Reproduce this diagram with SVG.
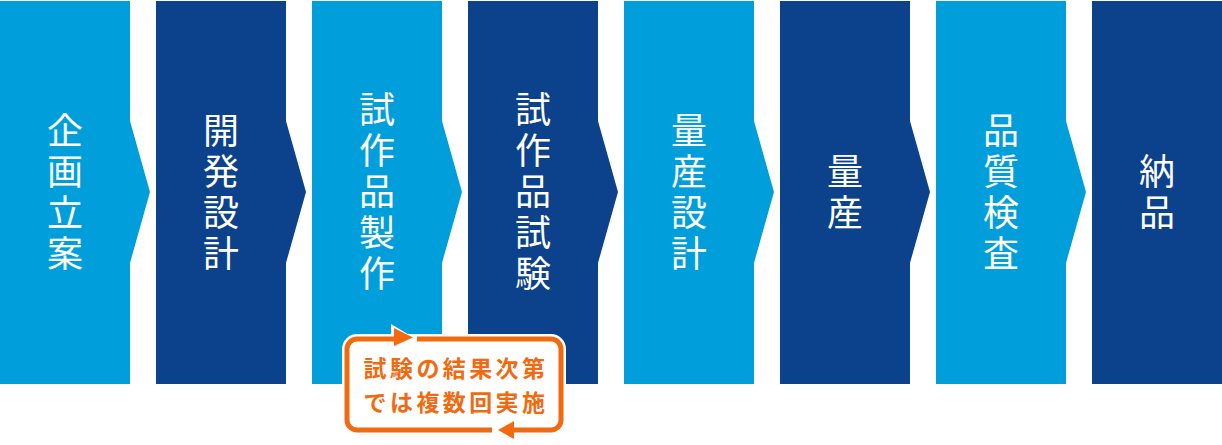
<svg xmlns="http://www.w3.org/2000/svg" width="1222" height="445" viewBox="0 0 1222 445">
<style>
.light{fill:#009FDB}
.dark{fill:#0B428B}
.lbl{font-family:"Noto Sans CJK JP","Noto Sans",sans-serif;font-size:36px;fill:#FFFFFF;text-anchor:middle;writing-mode:vertical-rl;text-orientation:upright;letter-spacing:5px}
.note{font-family:"Noto Sans CJK JP","Noto Sans",sans-serif;font-size:23px;font-weight:bold;fill:#F26A10;text-anchor:middle;letter-spacing:3.4px}
.loop{fill:none;stroke:#F26A10;stroke-width:5}
.halo{fill:#FFFFFF;stroke:#FFFFFF;stroke-width:10}
.head{fill:#F26A10}
</style>
<rect width="1222" height="445" fill="#FFFFFF"/>
<g id="step1"><polygon class="light" points="0,1 130,1 130,121 150,192 130,263 130,384 0,384"/>
<text class="lbl" x="65" y="194">企画立案</text></g>
<g id="step2"><polygon class="dark" points="156,1 286,1 286,121 306,192 286,263 286,384 156,384"/>
<text class="lbl" x="221" y="194">開発設計</text></g>
<g id="step3"><polygon class="light" points="312,1 442,1 442,121 462,192 442,263 442,384 312,384"/>
<text class="lbl" x="377" y="194">試作品製作</text></g>
<g id="step4"><polygon class="dark" points="468,1 598,1 598,121 618,192 598,263 598,384 468,384"/>
<text class="lbl" x="533" y="194">試作品試験</text></g>
<g id="step5"><polygon class="light" points="624,1 754,1 754,121 774,192 754,263 754,384 624,384"/>
<text class="lbl" x="689" y="194">量産設計</text></g>
<g id="step6"><polygon class="dark" points="780,1 910,1 910,121 930,192 910,263 910,384 780,384"/>
<text class="lbl" x="845" y="194">量産</text></g>
<g id="step7"><polygon class="light" points="936,1 1066,1 1066,121 1086,192 1066,263 1066,384 936,384"/>
<text class="lbl" x="1001" y="194">品質検査</text></g>
<g id="step8"><polygon class="dark" points="1092,1 1222,1 1222,384 1092,384"/>
<text class="lbl" x="1157" y="194">納品</text></g>
<g id="connectors">
<rect class="halo" x="347" y="339" width="214" height="91" rx="10"/>
<polygon points="391,324 416,339 391,354" fill="#FFFFFF"/>
<polygon points="517,419 495,430 517,441" fill="#FFFFFF"/>
<path class="loop" d="M417,339 H551 A10,10 0 0 1 561,349 V420 A10,10 0 0 1 551,430 H514"/>
<polygon class="head" points="514,421 514,439 498,430"/>
<path class="loop" d="M492,430 H357 A10,10 0 0 1 347,420 V349 A10,10 0 0 1 357,339 H395"/>
<polygon class="head" points="394,328 394,346 413,337.5"/>
</g>
<g id="note">
<text class="note" x="456" y="377">試験の結果次第</text>
<text class="note" x="456" y="411">では複数回実施</text>
</g>
</svg>
